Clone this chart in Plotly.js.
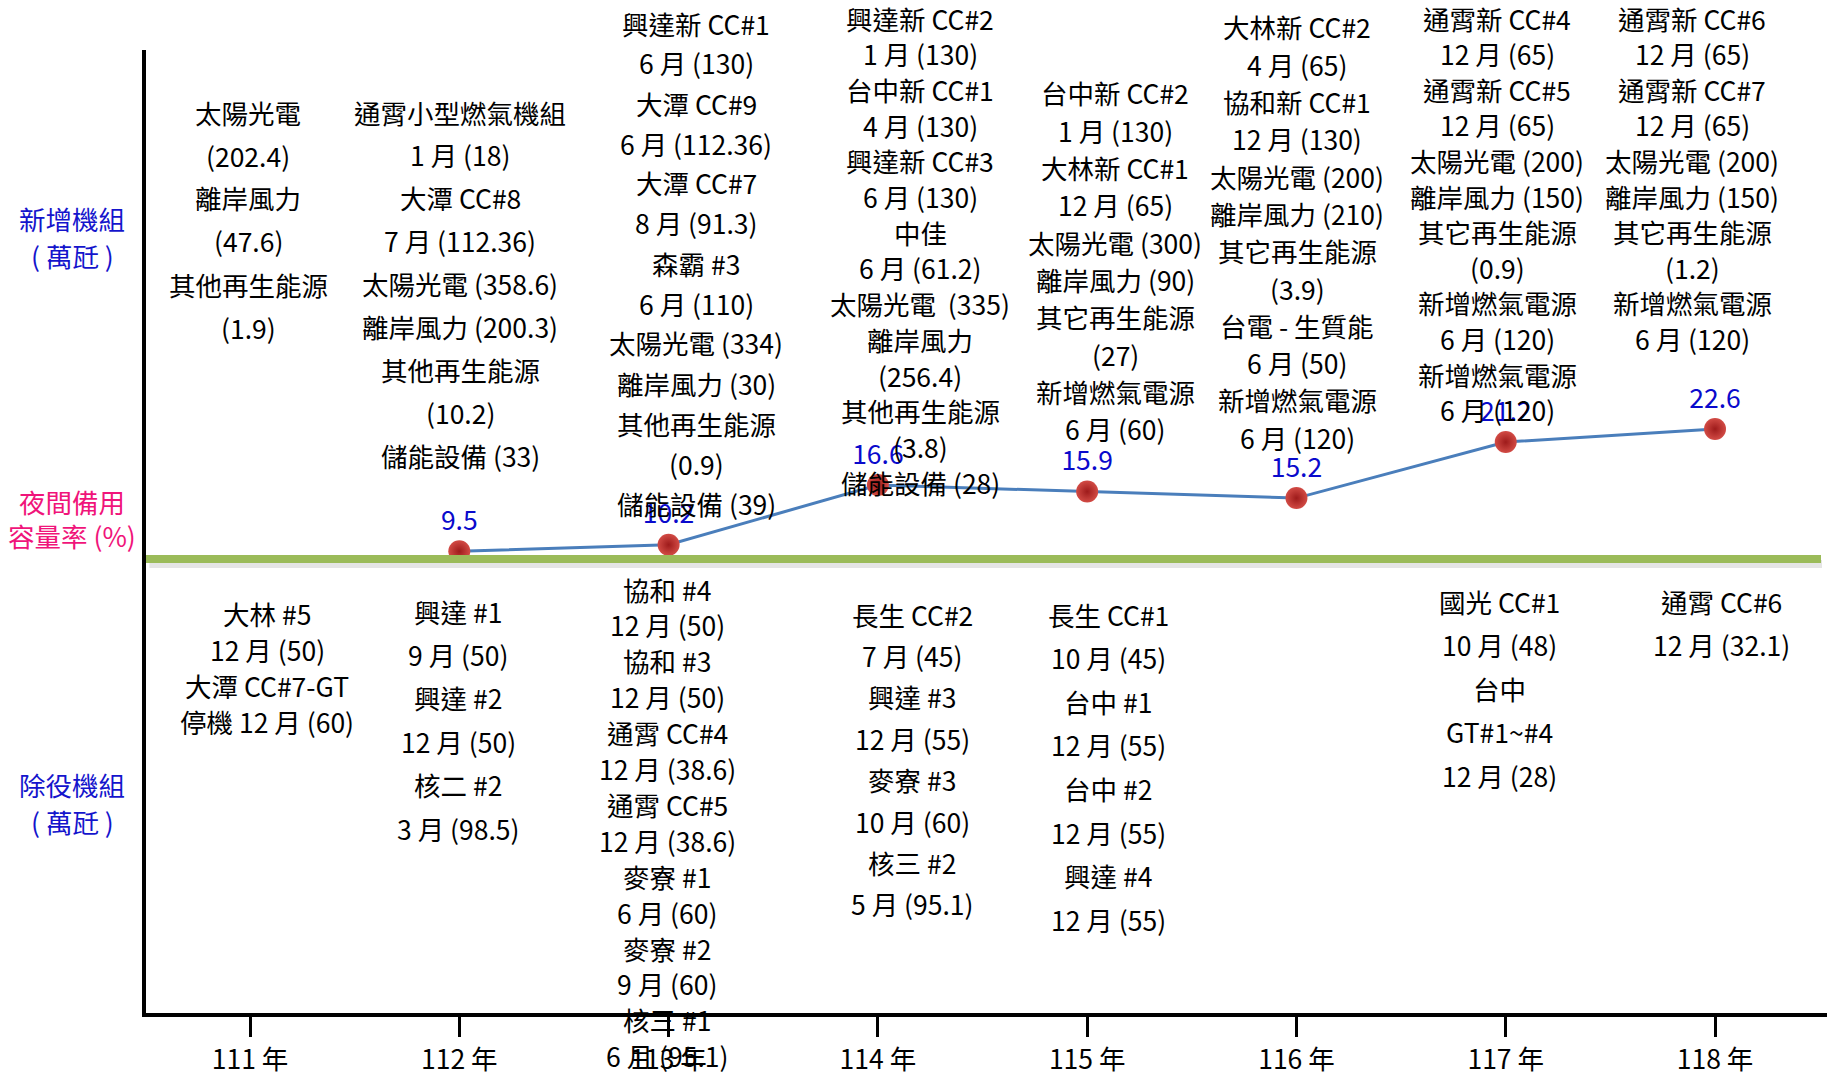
<!DOCTYPE html>
<html>
<head>
<meta charset="utf-8">
<script src="https://cdn.plot.ly/plotly-3.0.1.min.js"></script>
<style>
  html, body { margin: 0; padding: 0; background: #ffffff; }
  #chart { width: 1829px; height: 1078px; }
</style>
</head>
<body>
<div id="chart"></div>
<script>
// ---------------- data ----------------
const years = [111, 112, 113, 114, 115, 116, 117, 118];
const yearLabels = ['111 年', '112 年', '113 年', '114 年', '115 年', '116 年', '117 年', '118 年'];

const reserveYears = [112, 113, 114, 115, 116, 117, 118];
const reserveRate = [9.5, 10.2, 16.6, 15.9, 15.2, 21.2, 22.6];

const newUnits = [
  ['太陽光電', '(202.4)', '離岸風力', '(47.6)', '其他再生能源', '(1.9)'],
  ['通霄小型燃氣機組', '1 月 (18)', '大潭 CC#8', '7 月 (112.36)', '太陽光電 (358.6)', '離岸風力 (200.3)', '其他再生能源', '(10.2)', '儲能設備 (33)'],
  ['興達新 CC#1', '6 月 (130)', '大潭 CC#9', '6 月 (112.36)', '大潭 CC#7', '8 月 (91.3)', '森霸 #3', '6 月 (110)', '太陽光電 (334)', '離岸風力 (30)', '其他再生能源', '(0.9)', '儲能設備 (39)'],
  ['興達新 CC#2', '1 月 (130)', '台中新 CC#1', '4 月 (130)', '興達新 CC#3', '6 月 (130)', '中佳', '6 月 (61.2)', '太陽光電  (335)', '離岸風力', '(256.4)', '其他再生能源', '(3.8)', '儲能設備 (28)'],
  ['台中新 CC#2', '1 月 (130)', '大林新 CC#1', '12 月 (65)', '太陽光電 (300)', '離岸風力 (90)', '其它再生能源', '(27)', '新增燃氣電源', '6 月 (60)'],
  ['大林新 CC#2', '4 月 (65)', '協和新 CC#1', '12 月 (130)', '太陽光電 (200)', '離岸風力 (210)', '其它再生能源', '(3.9)', '台電 - 生質能', '6 月 (50)', '新增燃氣電源', '6 月 (120)'],
  ['通霄新 CC#4', '12 月 (65)', '通霄新 CC#5', '12 月 (65)', '太陽光電 (200)', '離岸風力 (150)', '其它再生能源', '(0.9)', '新增燃氣電源', '6 月 (120)', '新增燃氣電源', '6 月 (120)'],
  ['通霄新 CC#6', '12 月 (65)', '通霄新 CC#7', '12 月 (65)', '太陽光電 (200)', '離岸風力 (150)', '其它再生能源', '(1.2)', '新增燃氣電源', '6 月 (120)']
];

const retiredUnits = [
  ['大林 #5', '12 月 (50)', '大潭 CC#7-GT', '停機 12 月 (60)'],
  ['興達 #1', '9 月 (50)', '興達 #2', '12 月 (50)', '核二 #2', '3 月 (98.5)'],
  ['協和 #4', '12 月 (50)', '協和 #3', '12 月 (50)', '通霄 CC#4', '12 月 (38.6)', '通霄 CC#5', '12 月 (38.6)', '麥寮 #1', '6 月 (60)', '麥寮 #2', '9 月 (60)', '核三 #1', '6 月 (95.1)'],
  ['長生 CC#2', '7 月 (45)', '興達 #3', '12 月 (55)', '麥寮 #3', '10 月 (60)', '核三 #2', '5 月 (95.1)'],
  ['長生 CC#1', '10 月 (45)', '台中 #1', '12 月 (55)', '台中 #2', '12 月 (55)', '興達 #4', '12 月 (55)'],
  [],
  ['國光 CC#1', '10 月 (48)', '台中', 'GT#1~#4', '12 月 (28)'],
  ['通霄 CC#6', '12 月 (32.1)']
];

const sideLabels = [
  ['新增機組', '( 萬瓩 )'],
  ['夜間備用', '容量率 (%)'],
  ['除役機組', '( 萬瓩 )']
];

// ---------------- layout / style (pixel placement of text blocks) ----------------
const W = 1829, H = 1078;
const M = { l: 146, r: 2, t: 50, b: 65 };
const PW = W - M.l - M.r, PH = H - M.t - M.b;
const px2x = p => (p - M.l) / PW;
const py2y = p => (H - M.b - p) / PH;
const DY = -3;

const newX = [248, 460, 696, 920, 1115, 1297, 1497, 1692];
const newTop = [115, 115, 26, 21, 96, 30, 21, 21];
const newStep = [43, 42.9, 40, 35.7, 37.3, 37.3, 35.6, 35.6];
const retX = [267, 458, 667, 912, 1108, 0, 1499, 1721];
const retTop = [616, 614, 592, 617, 617, 0, 604, 604];
const retStep = [36, 43.4, 35.9, 41.4, 43.6, 0, 43.5, 43];
const sideX = 72;
const sideY = [[222, 259], [504, 538], [787, 824]];
const sideColor = ['#1414CC', '#F0147A', '#1414CC'];

const FONT = '"Noto Sans CJK TC", "Noto Sans", sans-serif';
const FS = 26.5;

const annotations = [];
function addBlock(lines, xp, top, step) {
  lines.forEach((t, i) => {
    annotations.push({
      text: t, showarrow: false,
      xref: 'paper', yref: 'paper',
      x: px2x(xp), y: py2y(top + i * step + DY),
      xanchor: 'center', yanchor: 'middle',
      font: { family: FONT, size: FS, color: '#000000' }
    });
  });
}
newUnits.forEach((lines, i) => addBlock(lines, newX[i], newTop[i], newStep[i]));
retiredUnits.forEach((lines, i) => addBlock(lines, retX[i], retTop[i], retStep[i]));
sideLabels.forEach((pair, k) => {
  pair.forEach((t, j) => {
    annotations.push({
      text: t, showarrow: false,
      xref: 'paper', yref: 'paper',
      x: px2x(sideX), y: py2y(sideY[k][j] + DY),
      xanchor: 'center', yanchor: 'middle',
      font: { family: FONT, size: FS, color: sideColor[k] }
    });
  });
});

const greenY = py2y(559);
const shapes = [
  { type: 'line', xref: 'paper', yref: 'paper', x0: 0.002, x1: px2x(1822), y0: py2y(564), y1: py2y(564),
    line: { color: 'rgba(0,0,0,0.10)', width: 8 } },
  { type: 'line', xref: 'paper', yref: 'paper', x0: 0, x1: px2x(1821), y0: greenY, y1: greenY,
    line: { color: '#9BBB59', width: 8 } }
];

const trace = {
  x: reserveYears,
  y: reserveRate,
  mode: 'lines+markers+text',
  text: reserveRate.map(v => v.toFixed(1)),
  textposition: 'top center',
  textfont: { family: FONT, size: FS, color: '#0A0ACC' },
  line: { color: '#4A7EBB', width: 3 },
  marker: {
    size: 22, color: '#D24B45',
    gradient: { type: 'radial', color: '#9E1B1B' },
    line: { width: 0 }
  },
  cliponaxis: false,
  hoverinfo: 'skip',
  showlegend: false
};

const layout = {
  width: W, height: H,
  margin: M,
  paper_bgcolor: '#ffffff',
  plot_bgcolor: '#ffffff',
  showlegend: false,
  xaxis: {
    range: [110.503, 118.535],
    tickmode: 'array', tickvals: years, ticktext: yearLabels,
    tickfont: { family: FONT, size: FS, color: '#000000' },
    ticks: 'outside', ticklen: 20, tickwidth: 3, tickcolor: '#000000',
    showline: true, linecolor: '#000000', linewidth: 4,
    showgrid: false, zeroline: false, fixedrange: true
  },
  yaxis: {
    range: [-39.97, 63.21],
    showticklabels: false, ticks: '',
    showline: true, linecolor: '#000000', linewidth: 4,
    showgrid: false, zeroline: false, fixedrange: true
  },
  shapes: shapes,
  annotations: annotations
};

Plotly.newPlot('chart', [trace], layout, { displayModeBar: false, staticPlot: true });
</script>
</body>
</html>
